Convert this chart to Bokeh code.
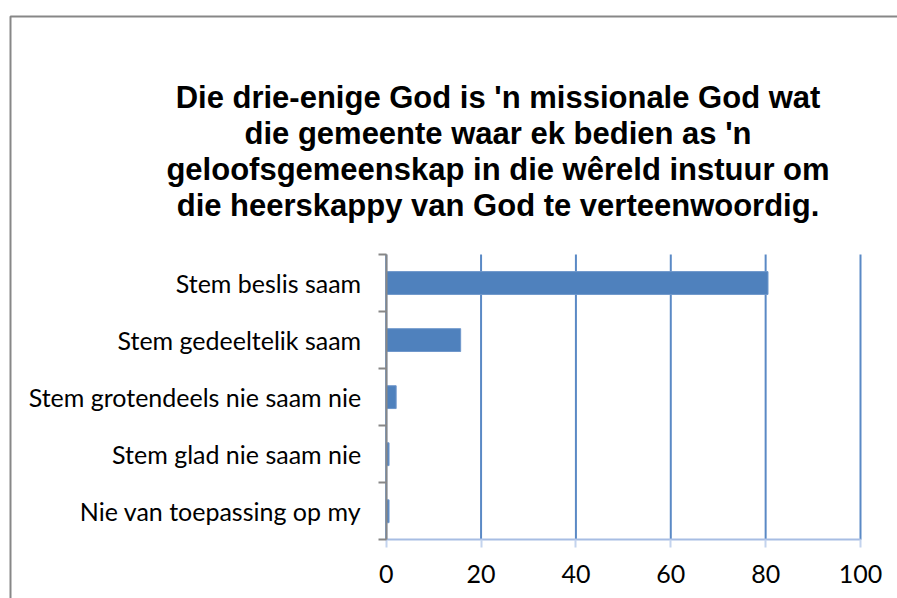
from bokeh.plotting import figure
from bokeh.models import Range1d, FixedTicker, Label, BoxAnnotation, LinearAxis
from bokeh.embed import file_html
from bokeh.resources import INLINE

# ---- data ----
categories = [
    "Stem beslis saam",
    "Stem gedeeltelik saam",
    "Stem grotendeels nie saam nie",
    "Stem glad nie saam nie",
    "Nie van toepassing op my",
]
values = [80.5, 15.7, 2.1, 0.6, 0.6]
x_ticks = [0, 20, 40, 60, 80, 100]
title_lines = [
    "Die drie-enige God is 'n missionale God wat",
    "die gemeente waar ek bedien as 'n",
    "geloofsgemeenskap in die wêreld instuur om",
    "die heerskappy van God te verteenwoordig.",
]

n = len(categories)
ypos = [n - i - 0.5 for i in range(n)]

# ---- layout (pixel geometry of the plot area inside the canvas) ----
W, H = 897, 598
PL, PR, PT, PB = 385.7, 860.0, 254.0, 539.3   # plot-area edges in canvas px
xmin, xmax = x_ticks[0], x_ticks[-1]
sx = (PR - PL) / (xmax - xmin)
sy = (PB - PT) / n
x_range = Range1d(xmin - PL / sx, xmax + (W - PR) / sx)
y_range = Range1d(-(H - PB) / sy, n + PT / sy)

p = figure(width=W, height=H, output_backend="svg", toolbar_location=None,
           x_range=x_range, y_range=y_range,
           x_axis_location=None, y_axis_location=None,
           min_border=0, min_border_left=0, min_border_right=0,
           min_border_top=0, min_border_bottom=0)
p.outline_line_color = None
p.background_fill_color = "white"
p.border_fill_color = "white"
p.xgrid.grid_line_color = None
p.ygrid.grid_line_color = None

# vertical gridlines
p.segment(x0=x_ticks, y0=[0] * len(x_ticks), x1=x_ticks, y1=[n] * len(x_ticks),
          line_color="#5A89C5", line_width=2, level="underlay")

p.hbar(y=ypos, right=values, left=0, height=0.4,
       fill_color="#4F81BD", line_color="#6F97CB", line_width=1)

# x axis
xa = LinearAxis(fixed_location=0, bounds=(xmin, xmax))
xa.ticker = FixedTicker(ticks=x_ticks)
xa.axis_line_color = "#A7BDE3"
xa.axis_line_width = 2
xa.major_tick_line_color = "#C3D3EE"
xa.major_tick_line_width = 2
xa.major_tick_out = 8
xa.major_tick_in = 0
xa.minor_tick_line_color = None
xa.major_label_text_font = "Lato"
xa.major_label_text_font_size = "25px"
xa.major_label_text_color = "black"
xa.major_label_standoff = 17
p.add_layout(xa, "below")

# y axis
ya = LinearAxis(fixed_location=0, bounds=(0, n))
ya.ticker = FixedTicker(ticks=ypos, minor_ticks=list(range(n + 1)))
ya.major_label_overrides = {y: c for y, c in zip(ypos, categories)}
ya.axis_line_color = "#878787"
ya.axis_line_width = 2
ya.major_tick_line_color = None
ya.major_tick_out = 0
ya.major_tick_in = 0
ya.minor_tick_line_color = "#878787"
ya.minor_tick_line_width = 2
ya.minor_tick_out = 8
ya.minor_tick_in = 0
ya.major_label_text_font = "Lato"
ya.major_label_text_font_size = "25px"
ya.major_label_text_color = "black"
ya.major_label_standoff = 17
p.add_layout(ya, "left")

# title lines
for i, t in enumerate(title_lines):
    p.add_layout(Label(x=497.5, y=97 + 36 * i, x_units="canvas", y_units="canvas",
                       text=t, text_align="center", text_baseline="alphabetic",
                       text_font="Liberation Sans", text_font_style="bold",
                       text_font_size="31px", text_color="black"))

# chart area border
p.add_layout(BoxAnnotation(left=10, right=3000, top=16, bottom=3000,
                           left_units="canvas", right_units="canvas",
                           top_units="canvas", bottom_units="canvas",
                           fill_alpha=0, line_color="#878787", line_alpha=1.0,
                           line_width=2, level="overlay"))

open("out.html", "w").write(file_html(p, INLINE))
